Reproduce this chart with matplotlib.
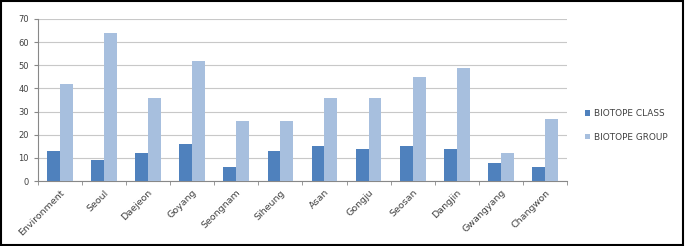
import matplotlib.pyplot as plt
import numpy as np

cities = ['Environment', 'Seoul', 'Daejeon', 'Goyang', 'Seongnam', 'Siheung',
          'Asan', 'Gongju', 'Seosan', 'Dangjin', 'Gwangyang', 'Changwon']
biotope_class = [13, 9, 12, 16, 6, 13, 15, 14, 15, 14, 8, 6]
biotope_group = [42, 64, 36, 52, 26, 26, 36, 36, 45, 49, 12, 27]

fig = plt.figure(figsize=(6.85, 2.46), dpi=100)
ax = fig.add_axes([0.055, 0.264, 0.773, 0.659])

x = np.arange(len(cities))
w = 0.29
ax.bar(x - w / 2, biotope_class, w, color='#4F81BD', label='BIOTOPE CLASS', zorder=3)
ax.bar(x + w / 2, biotope_group, w, color='#A7BFDE', label='BIOTOPE GROUP', zorder=3)

ax.set_xlim(-0.5, len(cities) - 0.5)
ax.set_ylim(0, 70)
ax.set_yticks(range(0, 71, 10))
ax.yaxis.grid(True, color='#C8C8C8', lw=0.8, zorder=0)

ax.set_xticks(x)
ax.set_xticklabels(cities, rotation=45, ha='right', rotation_mode='anchor',
                   fontsize=6.8, color='#404040')
ax.set_xticks(np.arange(-0.5, len(cities)), minor=True)
ax.tick_params(axis='x', which='major', length=0, pad=5)
ax.tick_params(axis='x', which='minor', length=3, color='#888888')
ax.tick_params(axis='y', labelsize=6, labelcolor='#404040', length=3, color='#888888')

for s in ['top', 'right']:
    ax.spines[s].set_visible(False)
for s in ['left', 'bottom']:
    ax.spines[s].set_color('#888888')
    ax.spines[s].set_linewidth(0.8)

fig.legend(loc='center left', bbox_to_anchor=(0.842, 0.49), frameon=False,
           fontsize=6.4, handlelength=0.6, handleheight=0.6, handletextpad=0.4,
           labelspacing=1.6, labelcolor='#404040')

fig.patches.append(plt.Rectangle((0.002, 0.004), 0.995, 0.992, transform=fig.transFigure,
                                 fill=False, edgecolor='black', lw=1.5))

fig.savefig('out.png', dpi=100)
